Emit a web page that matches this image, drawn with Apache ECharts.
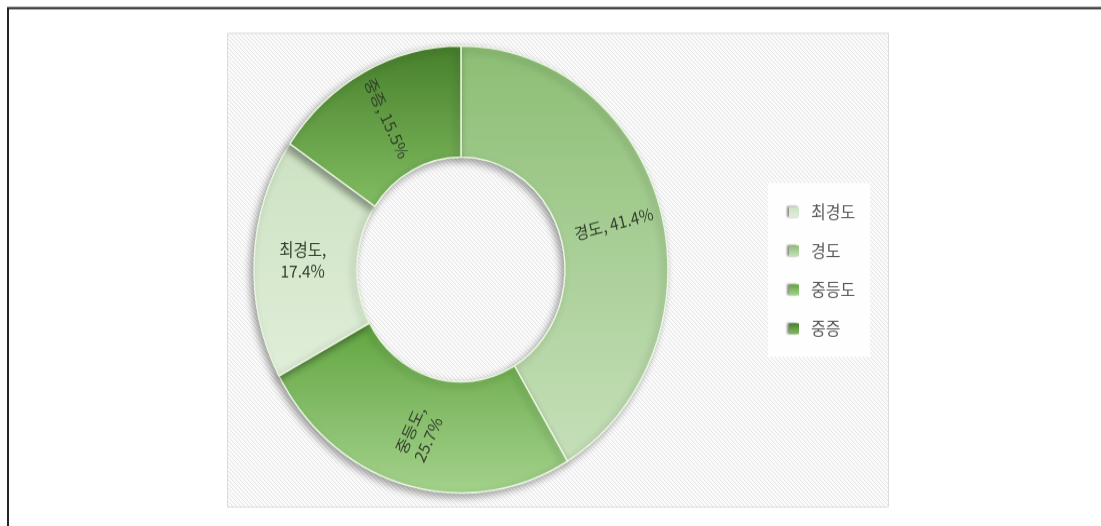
<!DOCTYPE html>
<html>
<head>
<meta charset="utf-8">
<script src="https://cdn.jsdelivr.net/npm/echarts@6/dist/echarts.min.js"></script>
<style>
  html, body { margin: 0; padding: 0; background: #ffffff; overflow: hidden; }
  #wrap { width: 1101px; height: 526px; overflow: hidden; }
  /* the doughnut is drawn slightly taller than wide */
  #chart { width: 1101px; height: 487px; transform: scaleY(1.08); transform-origin: 0 0; }
</style>
</head>
<body>
<div id="wrap"><div id="chart"></div></div>
<script>
// severity groups, in drawing order (clockwise from 12 o'clock)
const categories = ['경도', '중등도', '최경도', '중증'];
// share of each group, percent
const shares = [41.4, 25.7, 17.4, 15.5];
// legend order
const legendOrder = ['최경도', '경도', '중등도', '중증'];

const FONT = "'Noto Sans CJK KR', 'Noto Sans', sans-serif";

// vertical gradient colours per group [top, bottom]
const palette = {
  '경도':   ['#8cbe74', '#c6e0ba'],
  '중등도': ['#62a541', '#a4d28c'],
  '최경도': ['#cde2c2', '#e0eed9'],
  '중증':   ['#47802b', '#82bd62']
};
// label orientation per group
const labelRotate = { '경도': 14, '중등도': 64, '최경도': 0, '중증': -64 };
const wrapLabel = { '중등도': true, '최경도': true };

// diagonal hatch used behind the plot
function hatch() {
  const c = document.createElement('canvas');
  c.width = 4; c.height = 4;
  const g = c.getContext('2d');
  g.fillStyle = '#fbfbfb';
  g.fillRect(0, 0, 4, 4);
  g.strokeStyle = '#e4e4e4';
  g.lineWidth = 1;
  g.beginPath();
  g.moveTo(-1, -1); g.lineTo(5, 5);
  g.moveTo(-1, 3); g.lineTo(1, 5);
  g.moveTo(3, -1); g.lineTo(5, 1);
  g.stroke();
  return c;
}

const chart = echarts.init(document.getElementById('chart'), null, { renderer: 'canvas' });

const pieData = categories.map((name, i) => ({
  name: name,
  value: shares[i],
  itemStyle: {
    color: new echarts.graphic.LinearGradient(0, 0, 0, 1, [
      { offset: 0, color: palette[name][0] },
      { offset: 1, color: palette[name][1] }
    ])
  },
  label: { rotate: labelRotate[name] }
}));

chart.setOption({
  animation: false,
  backgroundColor: '#ffffff',
  graphic: [
    {
      // page frame: left and top edges
      type: 'polyline',
      z: 0,
      shape: { points: [[8, 600], [8, 7.4], [1300, 7.4]] },
      style: { fill: null, stroke: '#262626', lineWidth: 2 },
      silent: true
    },
    {
      type: 'rect',
      z: 1,
      shape: { x: 227.5, y: 30.8, width: 661, height: 438.6 },
      style: { fill: { image: hatch(), repeat: 'repeat' }, stroke: '#dcdcdc', lineWidth: 1 },
      silent: true
    }
  ],
  legend: {
    orient: 'vertical',
    left: 768,
    top: 169.4,
    padding: [19, 15, 18, 21],
    backgroundColor: 'rgba(255,255,255,0.9)',
    itemWidth: 10,
    itemHeight: 10,
    itemGap: 20,
    icon: 'rect',
    data: legendOrder,
    selectedMode: false,
    itemStyle: {
      borderWidth: 0,
      shadowBlur: 2,
      shadowOffsetX: -2,
      shadowOffsetY: 0,
      shadowColor: 'rgba(0,0,0,0.45)'
    },
    textStyle: {
      fontFamily: FONT,
      fontSize: 16,
      lineHeight: 16,
      color: '#595959',
      padding: [0, 0, 0, 7]
    }
  },
  series: [
    {
      type: 'pie',
      center: [461, 249.5],
      radius: [104, 207],
      startAngle: 90,
      clockwise: true,
      avoidLabelOverlap: false,
      emphasis: { disabled: true },
      itemStyle: {
        borderColor: '#e8f5df',
        borderWidth: 1.5,
        shadowBlur: 7,
        shadowOffsetX: -3,
        shadowOffsetY: 3,
        shadowColor: 'rgba(0,0,0,0.35)'
      },
      label: {
        show: true,
        position: 'inside',
        fontFamily: FONT,
        fontSize: 15.5,
        lineHeight: 20,
        color: '#333f2e',
        formatter: p => p.name + (wrapLabel[p.name] ? ',\n' : ', ') + p.value + '%'
      },
      labelLine: { show: false },
      data: pieData
    }
  ]
});
</script>
</body>
</html>
